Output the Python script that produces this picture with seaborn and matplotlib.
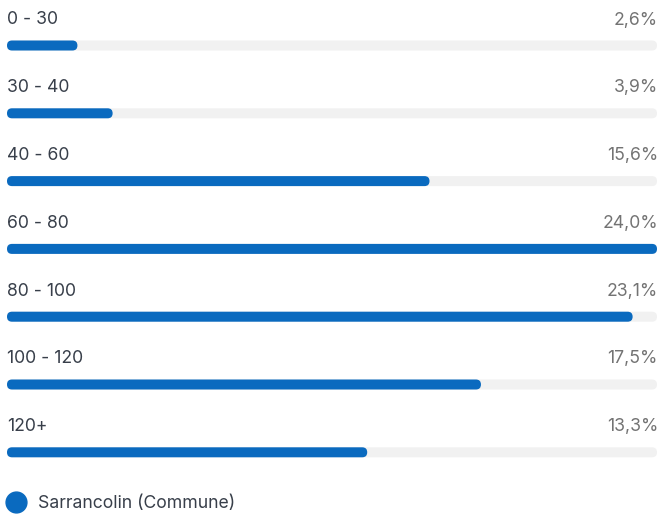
import matplotlib
matplotlib.use("Agg")
import matplotlib.pyplot as plt
import seaborn as sns
import pandas as pd
from matplotlib.patches import FancyBboxPatch
from matplotlib.lines import Line2D

categories = ["0 - 30", "30 - 40", "40 - 60", "60 - 80", "80 - 100", "100 - 120", "120+"]
values = [2.6, 3.9, 15.6, 24.0, 23.1, 17.5, 13.3]
value_labels = ["2,6%", "3,9%", "15,6%", "24,0%", "23,1%", "17,5%", "13,3%"]
series_name = "Sarrancolin (Commune)"

BLUE = "#0A6ABF"
TRACK = "#F1F1F1"
DARK = "#383F4A"
GREY = "#737373"
FS = 12.7

sns.set_theme(style="white")
plt.rcParams["font.family"] = ["Inter", "DejaVu Sans"]

W, H = 661, 518
fig = plt.figure(figsize=(W / 100, H / 100), dpi=100)
step = 67.8
c0 = 45.5
top_px = c0 - step * 0.5
bot_px = c0 + step * 6.5
left_px, right_px = 7, 657
ax = fig.add_axes([left_px / W, 1 - bot_px / H, (right_px - left_px) / W, (bot_px - top_px) / H])

df = pd.DataFrame({"cat": categories, "val": values, "track": [max(values)] * len(values)})
bar_h = 10 / step
sns.barplot(data=df, x="track", y="cat", orient="h", color=TRACK, width=bar_h, ax=ax, saturation=1)
sns.barplot(data=df, x="val", y="cat", orient="h", color=BLUE, width=bar_h, ax=ax, saturation=1)
ax.set_xlim(0, max(values))
ax.set_ylim(len(categories) - 0.5, -0.5)

xpp = max(values) / (right_px - left_px)
ypp = 1 / step
r = 5 * xpp
aspect = ypp / xpp
for i, p in enumerate(list(ax.patches)):
    x, y, w, h = p.get_x(), p.get_y(), p.get_width(), p.get_height()
    fc = p.get_facecolor()
    p.set_visible(False)
    fb = FancyBboxPatch((x, y), w, h, boxstyle=f"round,pad=0,rounding_size={r}",
                        mutation_aspect=aspect, facecolor=fc, edgecolor="none", zorder=2 + (i >= len(categories)))
    ax.add_patch(fb)

off = 27.5 / step
for i, (c, lab) in enumerate(zip(categories, value_labels)):
    ax.text(0, i - off, c, ha="left", va="center_baseline", fontsize=FS, color=DARK, clip_on=False)
    ax.text(max(values) + 1 * xpp, i - off, lab, ha="right", va="center_baseline", fontsize=FS, color=GREY, clip_on=False)

ax.set_axis_off()

handle = Line2D([], [], marker="o", linestyle="none", markersize=15, markerfacecolor=BLUE, markeredgecolor=BLUE)
fig.legend([handle], [series_name], loc="center left", bbox_to_anchor=(4 / W, 1 - 504 / H),
           frameon=False, fontsize=FS, labelcolor=DARK, handletextpad=0.55, borderaxespad=0, borderpad=0,
           handlelength=1.4)

fig.savefig("out.png", dpi=100)
